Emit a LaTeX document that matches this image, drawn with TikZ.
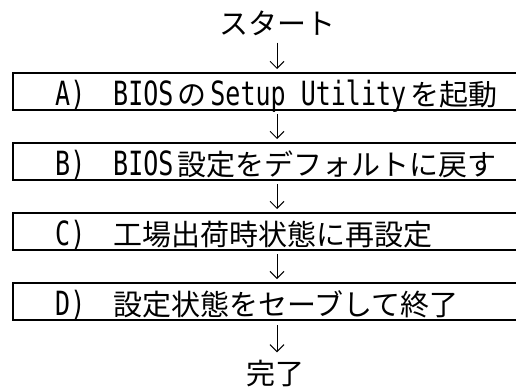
\documentclass[tikz,border=0pt]{standalone}
\usepackage{fontspec}
\setmainfont{Noto Sans CJK JP}
\newfontfamily\latfont[FakeStretch=0.75,Scale=1.15]{DejaVu Sans Mono}
\usetikzlibrary{arrows.meta}
\tikzset{
  stepbox/.style={draw, line width=2pt, minimum width=520pt, minimum height=37pt, inner sep=0pt, anchor=west},
  lbl/.style={anchor=base west, inner sep=0pt, font=\fontsize{29}{29}\selectfont},
  term/.style={inner sep=0pt, text height=25.5pt, text depth=3.5pt, font=\fontsize{29}{29}\selectfont},
  conn/.style={line width=1pt, -{Straight Barb[length=7pt,width=14pt,line width=1pt]}}
}
\begin{document}
\begin{tikzpicture}[x=1pt,y=1pt]
\useasboundingbox (0,0) rectangle (516,-388);
\clip (0,0) rectangle (516,-388);
\coordinate (ax) at (277,0);
% terminals
\node[term] (start) at (277,-23) {スタート};
\node[term] (end) at (275,-373) {完了};
% boxes
\node[stepbox] (A) at (12,-91.5) {};
\node[stepbox] (B) at (12,-161.5) {};
\node[stepbox] (C) at (12,-231.5) {};
\node[stepbox] (D) at (12,-301.5) {};
% labels
\node[lbl] (Al) at (55,-105) {\latfont A)};
\node[lbl] (At) at (113,-105) {\latfont BIOS\hspace{4pt}\normalfont の\hspace{4pt}\latfont Setup Utility\hspace{4pt}\normalfont を起動};
\node[lbl] (Bl) at (55,-175) {\latfont B)};
\node[lbl] (Bt) at (113,-175) {\latfont BIOS\hspace{4pt}\normalfont 設定をデフォルトに戻す};
\node[lbl] (Cl) at (55,-245) {\latfont C)};
\node[lbl] (Ct) at (113,-245) {工場出荷時状態に再設定};
\node[lbl] (Dl) at (55,-315) {\latfont D)};
\node[lbl] (Dt) at (113,-315) {設定状態をセーブして終了};
% connectors
\draw[conn, shorten <=5pt, shorten >=3pt] (start.south) -- (A.north -| ax);
\draw[conn, shorten <=3pt, shorten >=3pt] (A.south -| ax) -- (B.north -| ax);
\draw[conn, shorten <=3pt, shorten >=3pt] (B.south -| ax) -- (C.north -| ax);
\draw[conn, shorten <=3pt, shorten >=3pt] (C.south -| ax) -- (D.north -| ax);
\draw[conn, shorten <=4pt, shorten >=6pt] (D.south -| ax) -- (end.north -| ax);
\end{tikzpicture}
\end{document}
